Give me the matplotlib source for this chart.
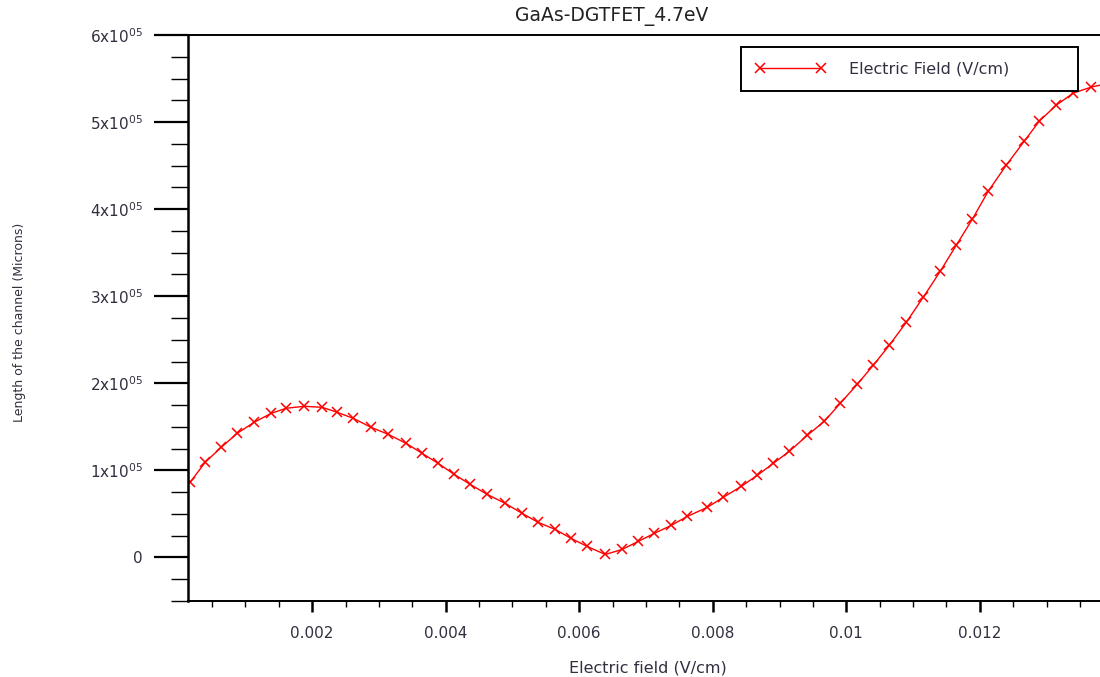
import matplotlib
matplotlib.use('Agg')
import matplotlib.pyplot as plt
from matplotlib.ticker import MultipleLocator, FixedLocator, FixedFormatter
import numpy as np

# electric field curve along the channel
x_field = [0.000172, 0.000397, 0.000637, 0.000876, 0.001131, 0.001386, 0.001610,
           0.001880, 0.002150, 0.002375, 0.002614, 0.002884, 0.003139, 0.003408,
           0.003648, 0.003888, 0.004127, 0.004367, 0.004622, 0.004891, 0.005146,
           0.005386, 0.005640, 0.005880, 0.006120, 0.006390, 0.006644, 0.006884,
           0.007124, 0.007378, 0.007618, 0.007918, 0.008157, 0.008427, 0.008667,
           0.008906, 0.009146, 0.009416, 0.009670, 0.009910, 0.010165, 0.010404,
           0.010644, 0.010899, 0.011153, 0.011408, 0.011648, 0.011888, 0.012127,
           0.012397, 0.012667, 0.012891, 0.013146, 0.013401, 0.013670, 0.013900]
y_len = [0.862e5, 1.092e5, 1.264e5, 1.425e5, 1.552e5, 1.655e5, 1.713e5,
         1.736e5, 1.724e5, 1.667e5, 1.598e5, 1.494e5, 1.414e5, 1.310e5,
         1.195e5, 1.080e5, 0.954e5, 0.839e5, 0.724e5, 0.621e5, 0.506e5,
         0.402e5, 0.322e5, 0.218e5, 0.126e5, 0.034e5, 0.092e5, 0.184e5,
         0.276e5, 0.368e5, 0.471e5, 0.575e5, 0.690e5, 0.816e5, 0.943e5,
         1.080e5, 1.218e5, 1.402e5, 1.563e5, 1.770e5, 1.989e5, 2.207e5,
         2.437e5, 2.701e5, 2.989e5, 3.287e5, 3.586e5, 3.885e5, 4.207e5,
         4.506e5, 4.782e5, 5.011e5, 5.195e5, 5.333e5, 5.402e5, 5.440e5]

xtick_vals = [0.002, 0.004, 0.006, 0.008, 0.010, 0.012]
xtick_labels = ['0.002', '0.004', '0.006', '0.008', '0.01', '0.012']
ytick_vals = [0, 1e5, 2e5, 3e5, 4e5, 5e5, 6e5]
ytick_labels = ['0'] + [r'$\mathregular{%dx10^{05}}$' % k for k in range(1, 7)]

txt = '#303040'

fig = plt.figure(figsize=(11, 6.77), dpi=100)
ax = fig.add_axes([0.1709, 0.1123, 0.8291, 0.836])

ax.plot(x_field, y_len, color='red', lw=1.0, marker='x', ms=7, mew=1.1,
        markevery=list(range(len(x_field) - 1)), label='Electric Field (V/cm)')

ax.set_xlim(0.00014, 0.0138)
ax.set_ylim(-0.5e5, 6e5)

ax.xaxis.set_major_locator(FixedLocator(xtick_vals))
ax.xaxis.set_major_formatter(FixedFormatter(xtick_labels))
ax.xaxis.set_minor_locator(MultipleLocator(0.0005))
ax.yaxis.set_major_locator(FixedLocator(ytick_vals))
ax.yaxis.set_major_formatter(FixedFormatter(ytick_labels))
ax.yaxis.set_minor_locator(MultipleLocator(0.25e5))

ax.tick_params(axis='y', which='major', direction='out', length=24.5, width=1.6,
               pad=8, labelsize=11, labelcolor=txt)
ax.tick_params(axis='y', which='minor', direction='out', length=12.2, width=1.0)
ax.tick_params(axis='x', which='major', direction='out', length=8, width=1.8,
               pad=10, labelsize=11, labelcolor=txt)
ax.tick_params(axis='x', which='minor', direction='out', length=4.3, width=1.0)

ax.spines['right'].set_visible(False)
for s in ['left', 'top', 'bottom']:
    ax.spines[s].set_linewidth(1.4)
ax.spines['left'].set_linewidth(1.8)

fig.text(612 / 1100, 1 - 17 / 677, 'GaAs-DGTFET_4.7eV', ha='center', va='center',
         fontsize=13.5, color='#222222')
fig.text(648 / 1100, 1 - 668 / 677, 'Electric field (V/cm)', ha='center', va='center',
         fontsize=11.5, color=txt)
fig.text(20 / 1100, 1 - 322 / 677, 'Length of the channel (Microns)', rotation=90,
         ha='center', va='center', fontsize=9, color=txt,
         family=['Liberation Sans Narrow', 'DejaVu Sans'])

leg = ax.legend(loc='upper left', bbox_to_anchor=(0.606, 0.979, 0.370, 0.0),
                mode='expand', frameon=True, fancybox=False, shadow=False,
                fontsize=11.5, numpoints=2, handlelength=4.4, handletextpad=1.5,
                borderpad=0.9, borderaxespad=0)
leg.get_frame().set_edgecolor('black')
leg.get_frame().set_linewidth(1.4)
leg.get_frame().set_alpha(1)
for t in leg.get_texts():
    t.set_color(txt)

fig.savefig('out.png', dpi=100)
